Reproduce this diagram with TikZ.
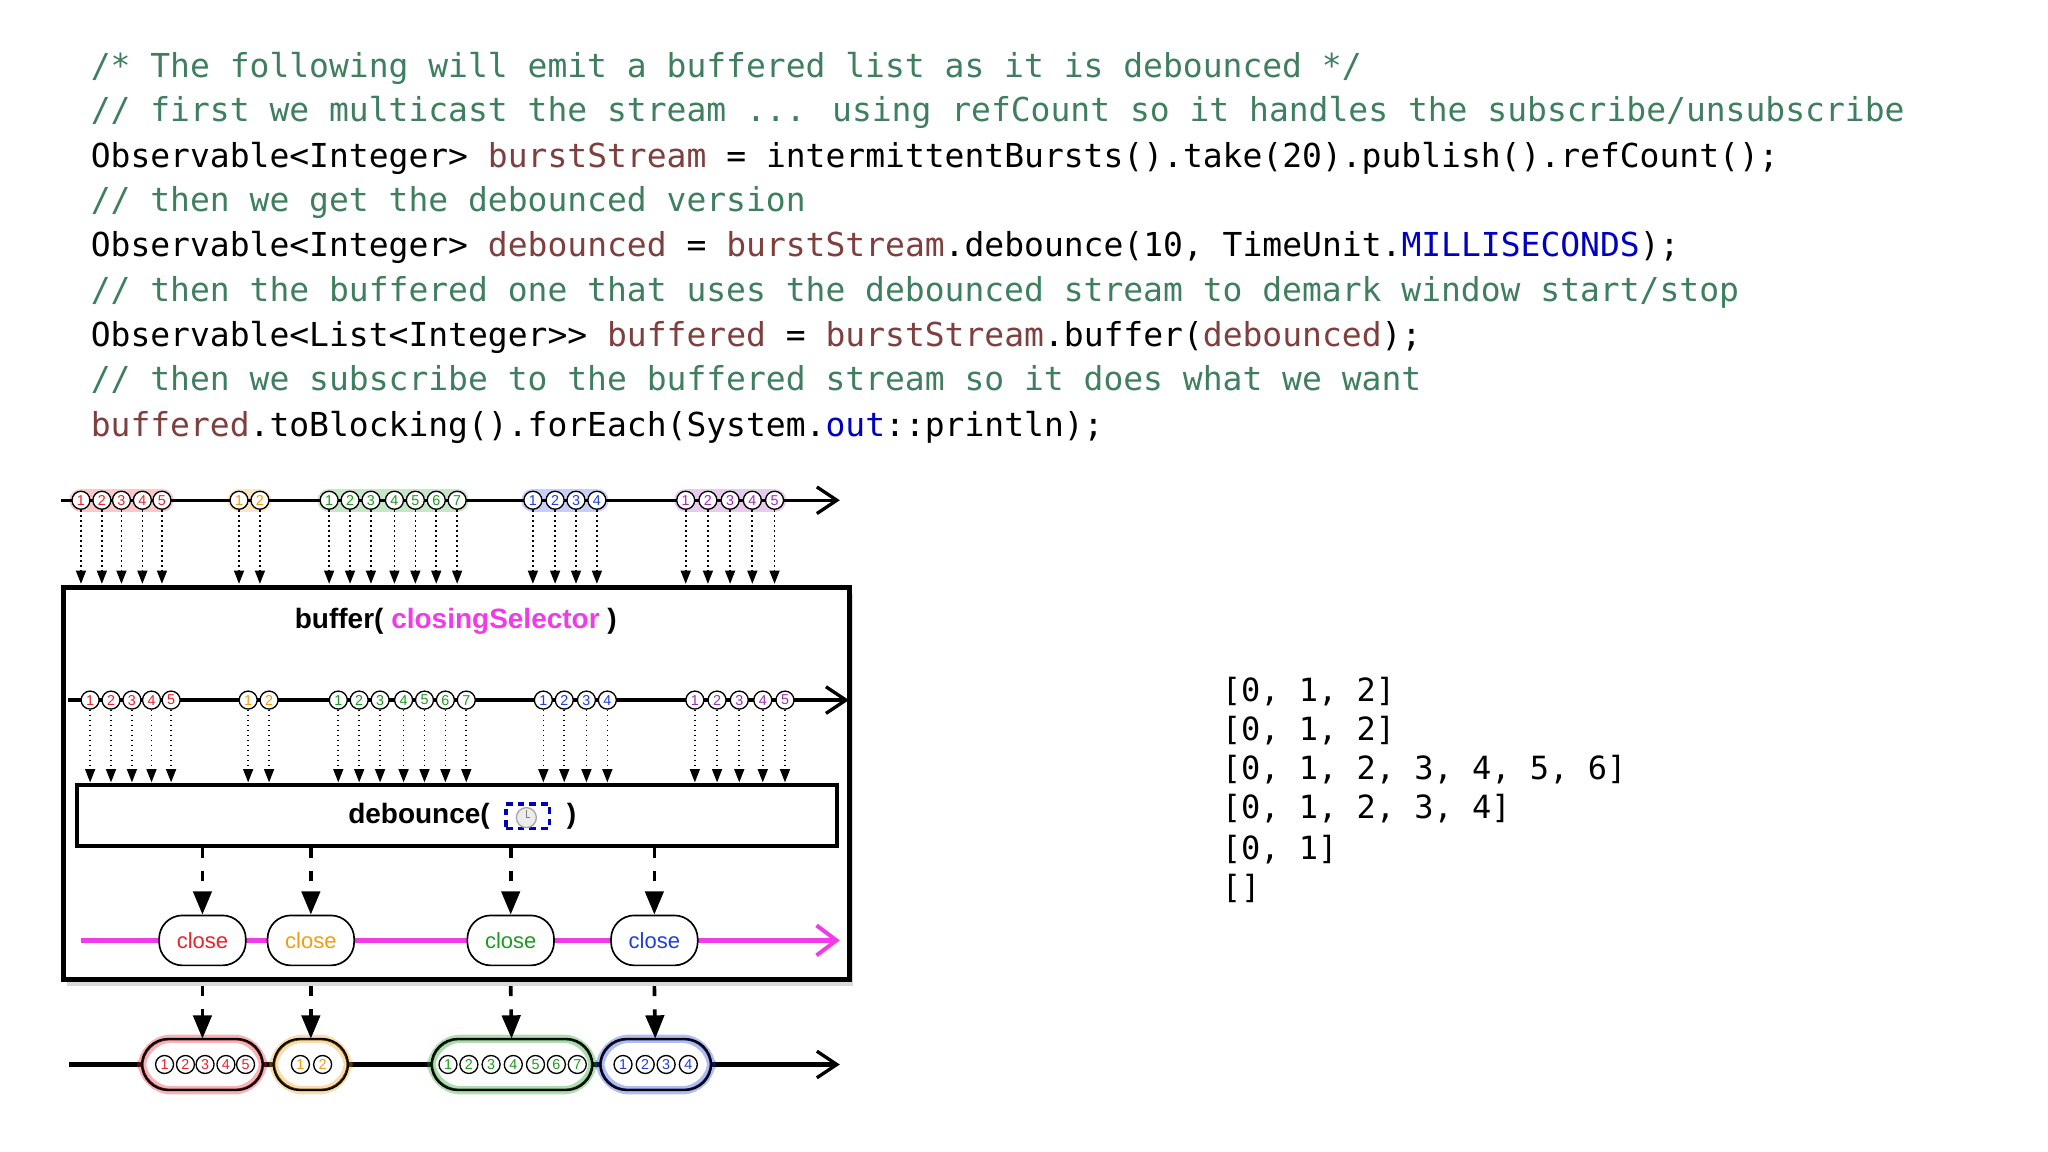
\documentclass[tikz,border=0pt]{standalone}
\usepackage{fontspec}
\setmainfont{Liberation Sans}
\newfontfamily\mono{DejaVu Sans Mono}
\usetikzlibrary{arrows.meta,shadows}
\definecolor{cmt}{HTML}{3F7F5F}
\definecolor{fld}{HTML}{7F3F3F}
\definecolor{kw}{HTML}{0000C0}
\definecolor{mred}{HTML}{E8232A}
\definecolor{morange}{HTML}{F39C12}
\definecolor{mgreen}{HTML}{1E9A1E}
\definecolor{mblue}{HTML}{1E3FDC}
\definecolor{mpurple}{HTML}{9B30B5}
\definecolor{mag}{HTML}{F03CE6}
\begin{document}
\begin{tikzpicture}[x=0.392pt,y=-0.392pt,
  code/.style={anchor=base west,inner sep=0,font=\mono\fontsize{9.9}{12}\selectfont},
  outtxt/.style={anchor=base west,inner sep=0,font=\mono\fontsize{9.6}{12}\selectfont},
  marble/.style={circle,draw=black,line width=0.4pt,fill=white,minimum size=5.4pt,inner sep=0,font=\fontsize{4.3}{5}\selectfont},
  glow/.style={line width=7pt,opacity=0.25,line cap=round},
  drop/.style={densely dotted,line width=0.5pt,-{Triangle[length=4pt,width=3pt]}},
  bigdrop/.style={dashed,dash pattern=on 3pt off 4pt,line width=1.1pt,-{Triangle[length=7pt,width=5.5pt]}},
  timeline/.style={line width=1pt,-{Straight Barb[length=6pt,width=8pt,line width=1pt]}},
  closebox/.style={draw,rounded corners=7pt,fill=white,minimum width=26pt,minimum height=15pt,font=\fontsize{6.6}{8}\selectfont,line width=0.5pt},
  bundle/.style={draw,rounded corners=8pt,fill=white,minimum height=15pt,line width=0.5pt},
  ttl/.style={font=\bfseries\fontsize{8.4}{10}\selectfont}]
\useasboundingbox (0,0) rectangle (1568,882);
% code
\node[code,text=cmt] (l1) at (69,59) {/* The following will emit a buffered list as it is debounced */};
\node[code,text=cmt] (l2) at (69,93) {// first we multicast the stream ... using refCount so it handles the subscribe/unsubscribe};
\node[code] (l3) at (69,128) {Observable<Integer> \textcolor{fld}{burstStream} = intermittentBursts().take(20).publish().refCount();};
\node[code,text=cmt] (l4) at (69,162) {// then we get the debounced version};
\node[code] (l5) at (69,196) {Observable<Integer> \textcolor{fld}{debounced} = \textcolor{fld}{burstStream}.debounce(10, TimeUnit.\textcolor{kw}{MILLISECONDS});};
\node[code,text=cmt] (l6) at (69,231) {// then the buffered one that uses the debounced stream to demark window start/stop};
\node[code] (l7) at (69,265) {Observable<List<Integer>> \textcolor{fld}{buffered} = \textcolor{fld}{burstStream}.buffer(\textcolor{fld}{debounced});};
\node[code,text=cmt] (l8) at (69,299) {// then we subscribe to the buffered stream so it does what we want};
\node[code] (l9) at (69,334) {\textcolor{fld}{buffered}.toBlocking().forEach(System.\textcolor{kw}{out}::println);};
% output
\node[outtxt] (o1) at (935,537) {[0, 1, 2]};
\node[outtxt] (o2) at (935,567) {[0, 1, 2]};
\node[outtxt] (o3) at (935,597) {[0, 1, 2, 3, 4, 5, 6]};
\node[outtxt] (o4) at (935,627) {[0, 1, 2, 3, 4]};
\node[outtxt] (o5) at (935,658) {[0, 1]};
\node[outtxt] (o6) at (935,688) {[]};
% big box
\node[draw,line width=1.6pt,fill=white,minimum width=236pt,minimum height=117.6pt,inner sep=0,drop shadow={opacity=0.3,shadow xshift=1pt,shadow yshift=-2pt}] (bigbox) at (349.5,600) {};
\node[ttl] (btitle) at (349,476) {buffer( \textcolor{mag}{closingSelector} )};
% top timeline
\coordinate (ts) at (47,383); \coordinate (te) at (643,383);
\foreach \c/\a/\b in {mred/62/124,morange/183/199,mgreen/252/350,mblue/408/457,mpurple/525/593}
  \draw[glow,color=\c] (\a,383) -- (\b,383);
\draw[timeline] (ts) -- (te);
\foreach \x/\n/\c [count=\i] in {62/1/mred,78/2/mred,93/3/mred,109/4/mred,124/5/mred,183/1/morange,199/2/morange,252/1/mgreen,268/2/mgreen,284/3/mgreen,302/4/mgreen,318/5/mgreen,334/6/mgreen,350/7/mgreen,408/1/mblue,425/2/mblue,441/3/mblue,457/4/mblue,525/1/mpurple,542/2/mpurple,559/3/mpurple,576/4/mpurple,593/5/mpurple}{
  \node[marble,text=\c] (t\i) at (\x,383) {\n};
  \coordinate (tt\i) at (\x,447);
  \draw[drop] (t\i) -- (tt\i);
}
% inner timeline
\coordinate (is) at (52,536); \coordinate (ie) at (650,536);
\draw[timeline] (is) -- (ie);
\foreach \x/\n/\c [count=\i] in {69/1/mred,85/2/mred,101/3/mred,116/4/mred,131/5/mred,190/1/morange,206/2/morange,259/1/mgreen,275/2/mgreen,291/3/mgreen,309/4/mgreen,325/5/mgreen,341/6/mgreen,357/7/mgreen,416/1/mblue,432/2/mblue,449/3/mblue,465/4/mblue,532/1/mpurple,549/2/mpurple,566/3/mpurple,584/4/mpurple,601/5/mpurple}{
  \node[marble,text=\c] (m\i) at (\x,536) {\n};
  \coordinate (mm\i) at (\x,599);
  \draw[drop] (m\i) -- (mm\i);
}
% debounce box
\node[draw,line width=1.3pt,fill=white,minimum width=228pt,minimum height=18.4pt,inner sep=0] (deb) at (350,624.5) {};
\node[ttl,anchor=east] (dtxt) at (384,625) {debounce(};
\node[draw=kw,dashed,line width=1pt,dash pattern=on 2pt off 1.5pt,minimum width=13pt,minimum height=7.5pt,inner sep=0] (clk) at (404,625) {};
\node[circle,draw=gray!70,fill=gray!15,minimum size=6pt,inner sep=0] (clkface) at (403,626) {};
\draw[gray,line width=0.3pt] (clkface.center) -- ++(0,-6) (clkface.center) -- ++(3,0);
\node[ttl,anchor=west] (dclose) at (425,625) {)};
% magenta line
\coordinate (ms) at (62,720); \coordinate (me) at (643,720);
\draw[mag,line width=1.3pt,-{Straight Barb[length=6pt,width=9pt,line width=1.2pt]}] (ms) -- (me);
\foreach \x/\c [count=\i] in {155/mred,238/morange,391/mgreen,501/mblue}{
  \node[closebox,text=\c] (c\i) at (\x,720) {close};
  \coordinate (d\i) at (\x,649);
  \draw[bigdrop] (d\i) -- (c\i);
  \coordinate (e\i) at (\x,755);
}
% bottom timeline
\coordinate (bs) at (53,815); \coordinate (be) at (643,815);
\draw[timeline,line width=1.4pt] (bs) -- (be);
\foreach \x/\w/\c [count=\i] in {155/36/mred,238/22/morange,392/48/mgreen,502/33/mblue}{
  \node[bundle,minimum width=\w pt,draw=black] (b\i) at (\x,815) {};
  \draw[\c,opacity=0.35,line width=2.5pt,rounded corners=9pt] (b\i.north west) rectangle (b\i.south east);
  \draw[rounded corners=8pt,line width=0.5pt] (b\i.north west) rectangle (b\i.south east);
  \draw[bigdrop] (e\i) -- (b\i);
}
\foreach \x/\n/\c [count=\i] in {126/1/mred,142/2/mred,157/3/mred,173/4/mred,188/5/mred,230/1/morange,247/2/morange,343/1/mgreen,359/2/mgreen,376/3/mgreen,393/4/mgreen,410/5/mgreen,426/6/mgreen,442/7/mgreen,477/1/mblue,494/2/mblue,510/3/mblue,527/4/mblue}
  \node[marble,text=\c] (r\i) at (\x,815) {\n};
\end{tikzpicture}
\end{document}
